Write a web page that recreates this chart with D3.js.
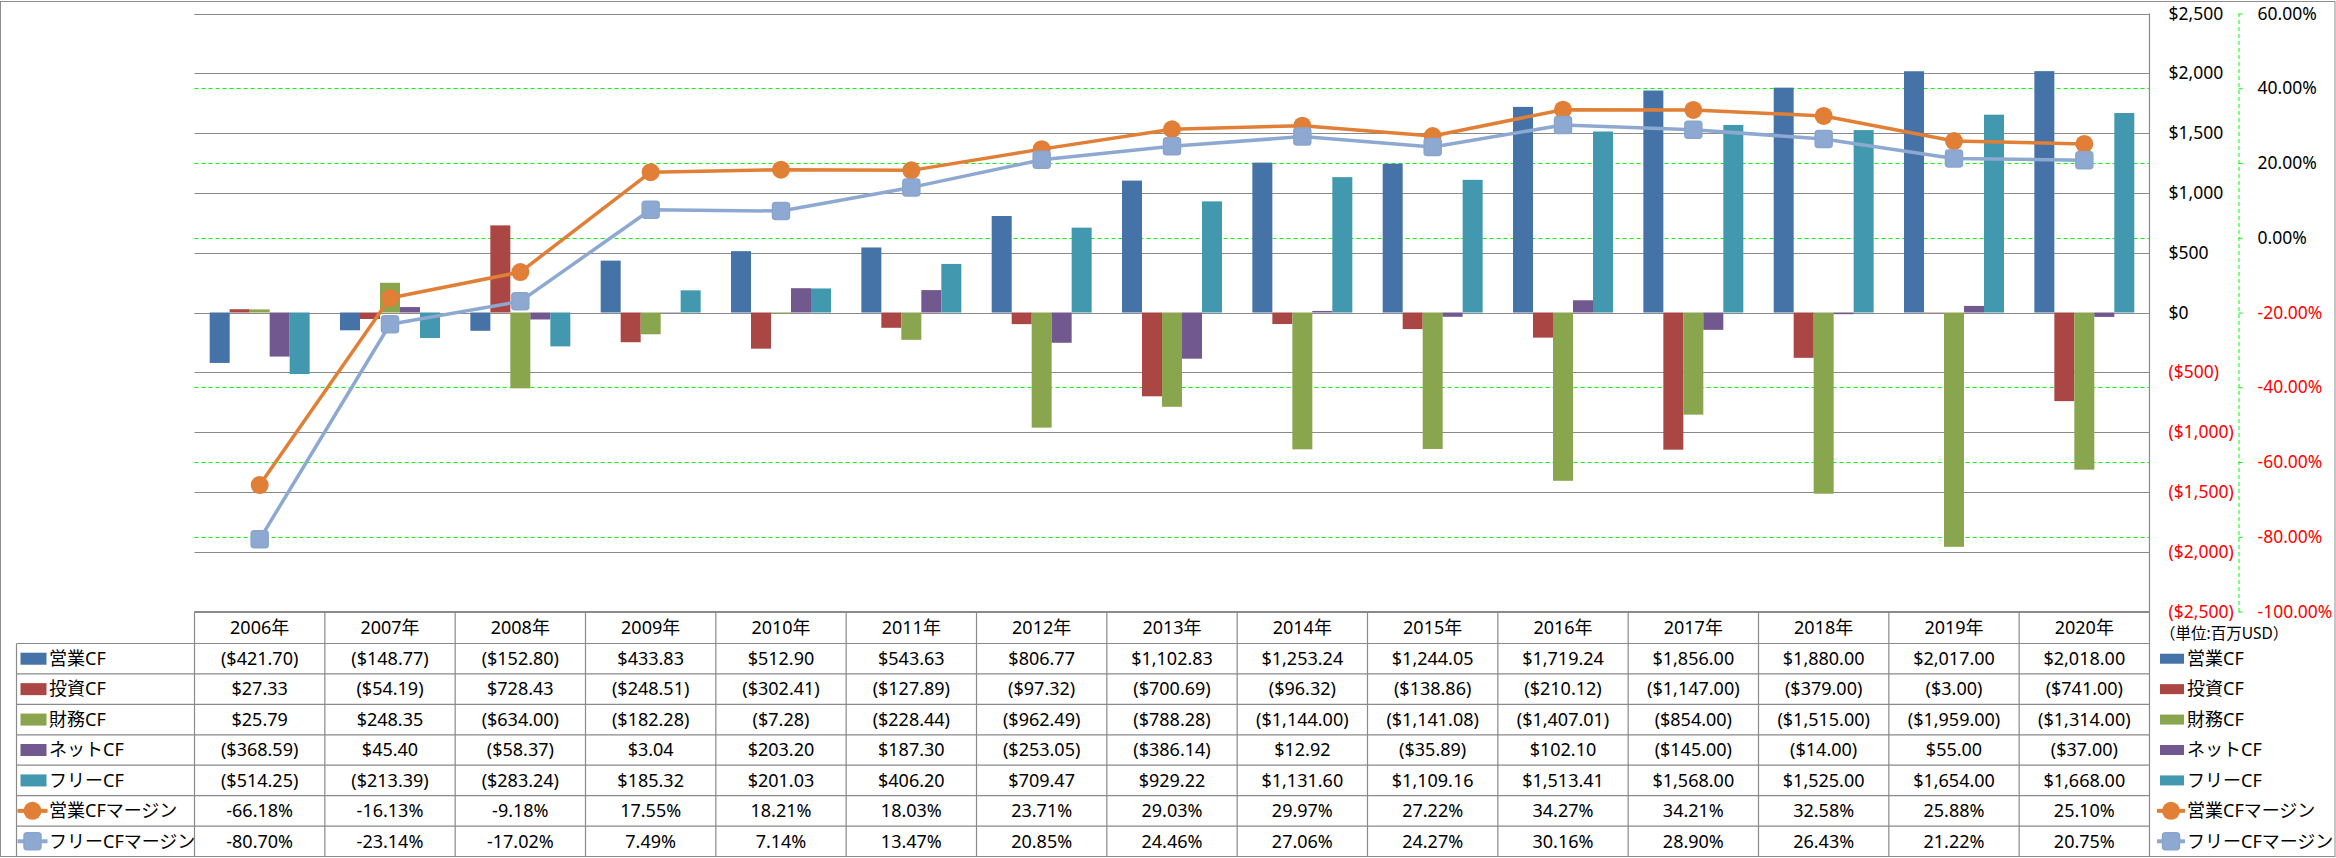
<!DOCTYPE html>
<html lang="ja">
<head>
<meta charset="UTF-8">
<title>CF chart</title>
<script src="https://d3js.org/d3.v7.min.js"></script>
<style>
  body { margin: 0; background: #fff; }
  svg { display: block; font-family: "Noto Sans", "Noto Sans CJK JP", sans-serif; }
</style>
</head>
<body>
<svg id="chart" width="2336" height="858"></svg>
<script>
const years = ["2006年","2007年","2008年","2009年","2010年","2011年","2012年","2013年","2014年","2015年","2016年","2017年","2018年","2019年","2020年"];

const eigyoCF = [-421.70, -148.77, -152.80, 433.83, 512.90, 543.63, 806.77, 1102.83, 1253.24, 1244.05, 1719.24, 1856.00, 1880.00, 2017.00, 2018.00];
const toshiCF = [27.33, -54.19, 728.43, -248.51, -302.41, -127.89, -97.32, -700.69, -96.32, -138.86, -210.12, -1147.00, -379.00, -3.00, -741.00];
const zaimuCF = [25.79, 248.35, -634.00, -182.28, -7.28, -228.44, -962.49, -788.28, -1144.00, -1141.08, -1407.01, -854.00, -1515.00, -1959.00, -1314.00];
const netCF = [-368.59, 45.40, -58.37, 3.04, 203.20, 187.30, -253.05, -386.14, 12.92, -35.89, 102.10, -145.00, -14.00, 55.00, -37.00];
const freeCF = [-514.25, -213.39, -283.24, 185.32, 201.03, 406.20, 709.47, 929.22, 1131.60, 1109.16, 1513.41, 1568.00, 1525.00, 1654.00, 1668.00];

const eigyoMargin = [-66.18, -16.13, -9.18, 17.55, 18.21, 18.03, 23.71, 29.03, 29.97, 27.22, 34.27, 34.21, 32.58, 25.88, 25.10];
const freeMargin = [-80.70, -23.14, -17.02, 7.49, 7.14, 13.47, 20.85, 24.46, 27.06, 24.27, 30.16, 28.90, 26.43, 21.22, 20.75];

const moneyTicks = [-2500, -2000, -1500, -1000, -500, 0, 500, 1000, 1500, 2000, 2500];
const pctTicks = [-100, -80, -60, -40, -20, 0, 20, 40, 60];

const barSeries = [
  { name: "営業CF", values: eigyoCF, color: "#4572A7" },
  { name: "投資CF", values: toshiCF, color: "#AA4643" },
  { name: "財務CF", values: zaimuCF, color: "#89A54E" },
  { name: "ネットCF", values: netCF, color: "#71588F" },
  { name: "フリーCF", values: freeCF, color: "#4198AF" }
];
const lineSeries = [
  { name: "営業CFマージン", values: eigyoMargin, color: "#E07F35", marker: "circle" },
  { name: "フリーCFマージン", values: freeMargin, color: "#8EA9D1", marker: "square" }
];

const svg = d3.select("#chart");
const plotL = 194.5, plotR = 2149.5, plotT = 13.5, plotB = 611.5;
const headB = 643.5, tableB = 856.5, labelL = 16.5;
const rowH = (tableB - headB) / 7;

const x = d3.scaleBand().domain(years).range([plotL, plotR]);
const yL = d3.scaleLinear().domain([-2500, 2500]).range([plotB, plotT]);
const yR = d3.scaleLinear().domain([-100, 60]).range([plotB, plotT]);
const groupW = x.bandwidth() * 0.767;
const sub = d3.scaleBand().domain(barSeries.map(d => d.name)).range([0, groupW]);

// hyphen instead of unicode minus, like Excel
const loc = d3.formatLocale({ decimal: ".", thousands: ",", grouping: [3], currency: ["$", ""], minus: "-" });
const fmt2 = loc.format(",.2f");
const money = v => v < 0 ? "($" + fmt2(-v) + ")" : "$" + fmt2(v);
const moneyAxis = v => v < 0 ? "($" + loc.format(",")(-v) + ")" : "$" + loc.format(",")(v);
const pct = v => loc.format(".2f")(v) + "%";

// outer frame
svg.append("rect").attr("x", 0.5).attr("y", 1.5).attr("width", 2334.5).attr("height", 855)
  .attr("fill", "none").attr("stroke", "#8c8c8c");

// green dashed gridlines (percent axis)
svg.append("g").selectAll("line").data(pctTicks).join("line")
  .attr("x1", plotL).attr("x2", plotR)
  .attr("y1", d => Math.round(yR(d)) + 0.5).attr("y2", d => Math.round(yR(d)) + 0.5)
  .attr("stroke", "#00ff00").attr("stroke-dasharray", "4,3");

// gray gridlines (money axis)
svg.append("g").selectAll("line").data(moneyTicks).join("line")
  .attr("x1", plotL).attr("x2", plotR)
  .attr("y1", d => Math.round(yL(d)) + 0.5).attr("y2", d => Math.round(yL(d)) + 0.5)
  .attr("stroke", "#8a8a8a").attr("stroke-width", 1.2);

// bars
barSeries.forEach(s => {
  svg.append("g").selectAll("rect").data(s.values).join("rect")
    .attr("x", (d, i) => x(years[i]) + (x.bandwidth() - groupW) / 2 + sub(s.name))
    .attr("width", sub.bandwidth())
    .attr("y", d => yL(Math.max(0, d)))
    .attr("height", d => Math.abs(yL(d) - yL(0)))
    .attr("fill", s.color);
});

// lines
const cx = i => x(years[i]) + x.bandwidth() / 2;
function drawMarker(g, type, color, px, py) {
  if (type === "circle") {
    g.append("circle").attr("cx", px).attr("cy", py).attr("r", 9).attr("fill", color);
  } else {
    g.append("rect").attr("x", px - 8.5).attr("y", py - 8.5).attr("width", 17).attr("height", 17)
      .attr("rx", 3).attr("fill", color).attr("stroke", "#8aa5cd").attr("stroke-width", 1.5);
  }
}
lineSeries.forEach(s => {
  const g = svg.append("g");
  g.append("path").datum(s.values)
    .attr("d", d3.line().x((d, i) => cx(i)).y(d => yR(d)))
    .attr("fill", "none").attr("stroke", s.color).attr("stroke-width", 3.5)
    .attr("stroke-linejoin", "round");
  s.values.forEach((v, i) => drawMarker(g, s.marker, s.color, cx(i), yR(v)));
});

// right vertical border (plot edge / table edge)
svg.append("line").attr("x1", plotR).attr("x2", plotR).attr("y1", plotT).attr("y2", tableB)
  .attr("stroke", "#8a8a8a").attr("stroke-width", 1.2);

// money axis
const axL = svg.append("g").attr("transform", `translate(${plotR},0)`)
  .call(d3.axisRight(yL).tickValues(moneyTicks).tickSize(0).tickPadding(19).tickFormat(moneyAxis));
axL.select(".domain").remove();
axL.selectAll("text").style("font-size", "17.5px").attr("fill", d => d < 0 ? "#ff0000" : "#000")
  .attr("font-family", "'Noto Sans', sans-serif");

// percent axis
const axR = svg.append("g").attr("transform", "translate(2238.5,0)")
  .call(d3.axisRight(yR).tickValues(pctTicks).tickSize(4).tickSizeOuter(0).tickPadding(15).tickFormat(pct));
axR.select(".domain").attr("stroke", "#00ff00").attr("stroke-dasharray", "4,3");
axR.selectAll(".tick line").attr("stroke", "#00ff00");
axR.selectAll("text").style("font-size", "17.5px").attr("fill", d => d <= -20 ? "#ff0000" : "#000")
  .attr("font-family", "'Noto Sans', sans-serif");

// unit note
svg.append("text").attr("x", 2160).attr("y", 634).attr("dy", "0.35em")
  .style("font-size", "15.5px").text("（単位:百万USD）");

// table grid
const tg = svg.append("g").attr("stroke", "#8a8a8a").attr("stroke-width", 1.2);
tg.append("line").attr("x1", plotL).attr("x2", plotR).attr("y1", plotB).attr("y2", plotB);
d3.range(8).forEach(r => {
  const yy = headB + r * rowH;
  tg.append("line").attr("x1", labelL).attr("x2", plotR).attr("y1", yy).attr("y2", yy);
});
tg.append("line").attr("x1", labelL).attr("x2", labelL).attr("y1", headB).attr("y2", tableB);
years.forEach(yv => {
  tg.append("line").attr("x1", x(yv)).attr("x2", x(yv)).attr("y1", plotB).attr("y2", tableB);
});

// header
svg.append("g").selectAll("text").data(years).join("text")
  .attr("x", d => x(d) + x.bandwidth() / 2).attr("y", (plotB + headB) / 2).attr("dy", "0.35em")
  .attr("text-anchor", "middle").style("font-size", "18px").text(d => d);

// rows
const rows = barSeries.map(s => ({ ...s, kind: "bar", fmt: money }))
  .concat(lineSeries.map(s => ({ ...s, kind: "line", fmt: pct })));

function legendKey(g, r, x0, cy, w, h) {
  if (r.kind === "bar") {
    g.append("rect").attr("x", x0 + 3).attr("y", cy - h / 2).attr("width", w).attr("height", h).attr("fill", r.color);
  } else {
    g.append("line").attr("x1", x0).attr("x2", x0 + w + 4).attr("y1", cy).attr("y2", cy)
      .attr("stroke", r.color).attr("stroke-width", 4);
    drawMarker(g, r.marker, r.color, x0 + (w + 4) / 2, cy);
  }
}

rows.forEach((r, ri) => {
  const cy = headB + ri * rowH + rowH / 2;
  const g = svg.append("g");
  legendKey(g, r, labelL + 1, cy, 26, 12);
  g.append("text").attr("x", 49).attr("y", cy).attr("dy", "0.35em").style("font-size", "18px").text(r.name);
  g.selectAll("text.v").data(r.values).join("text").attr("class", "v")
    .attr("x", (d, i) => cx(i)).attr("y", cy).attr("dy", "0.35em")
    .attr("text-anchor", "middle").style("font-size", "18px").text(d => r.fmt(d));
  legendKey(g, r, 2157, cy, 24, 10);
  g.append("text").attr("x", 2187).attr("y", cy).attr("dy", "0.35em").style("font-size", "18px").text(r.name);
});
</script>
</body>
</html>
